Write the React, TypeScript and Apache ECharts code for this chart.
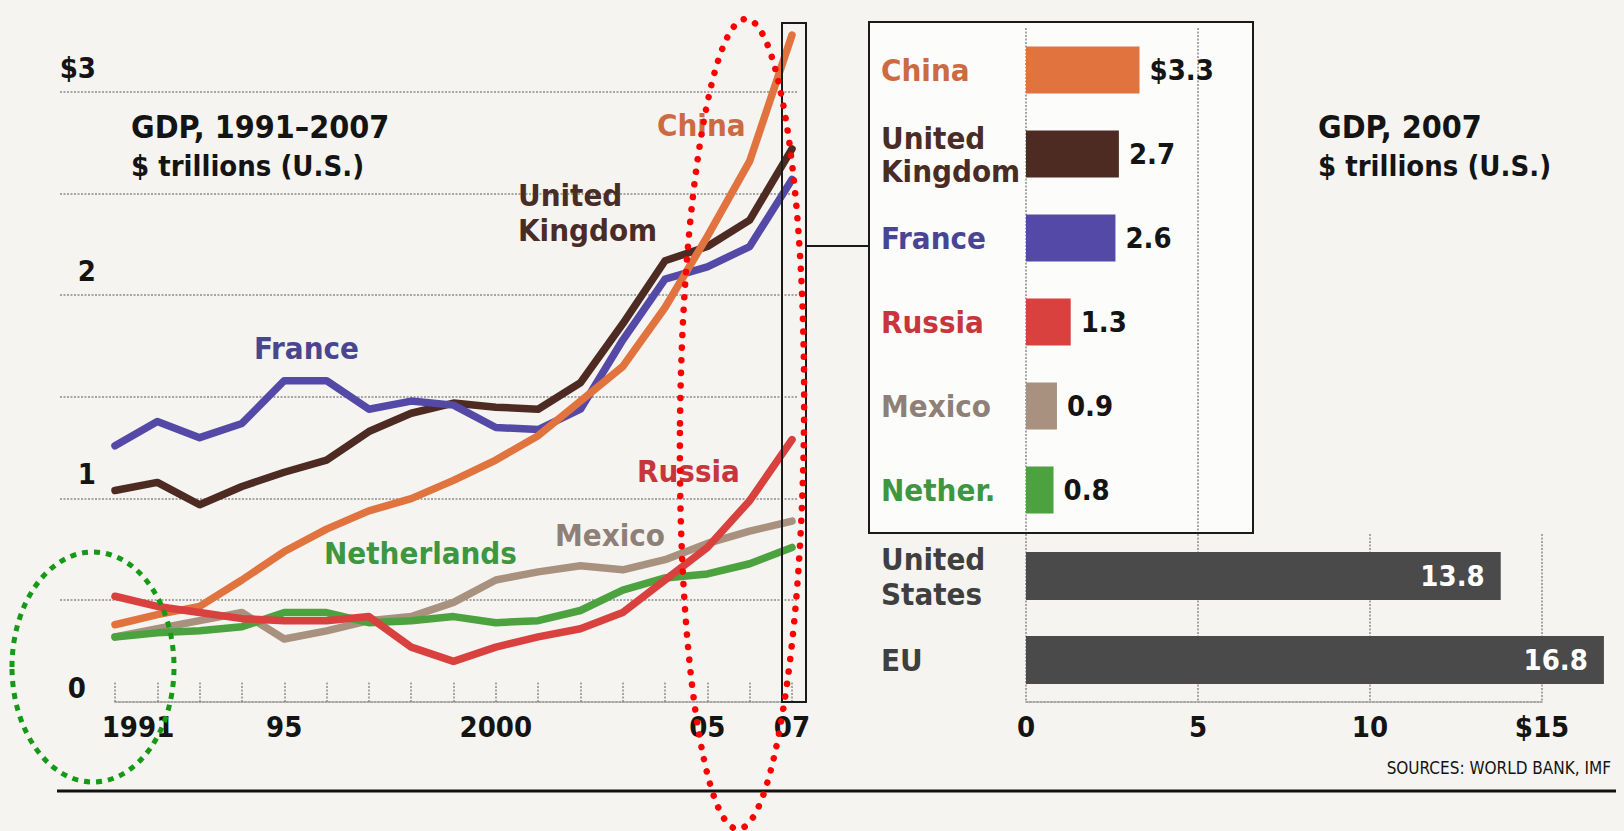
import React, { useEffect, useRef } from "react";
import * as echarts from "echarts";

// ---------- data ----------
const years = ["1991","1992","1993","1994","1995","1996","1997","1998","1999","2000","2001","2002","2003","2004","2005","2006","2007"];
const yearTickLabels = ["1991","","","","95","","","","","2000","","","","","05","","07"];
const gdpTickLabels = ["0","","1","","2","","$3"];

const chinaGdp = [0.38,0.43,0.47,0.60,0.74,0.85,0.94,1.00,1.09,1.19,1.31,1.48,1.65,1.94,2.29,2.66,3.28];
const ukGdp = [1.04,1.08,0.97,1.06,1.13,1.19,1.33,1.42,1.47,1.45,1.44,1.57,1.86,2.17,2.24,2.37,2.72];
const franceGdp = [1.26,1.38,1.30,1.37,1.58,1.58,1.44,1.48,1.46,1.35,1.34,1.44,1.78,2.08,2.14,2.24,2.57];
const russiaGdp = [0.52,0.47,0.44,0.41,0.40,0.40,0.42,0.27,0.20,0.27,0.32,0.36,0.44,0.60,0.76,0.99,1.29];
const mexicoGdp = [0.32,0.36,0.40,0.44,0.31,0.35,0.40,0.42,0.49,0.60,0.64,0.67,0.65,0.70,0.78,0.84,0.89];
const netherlandsGdp = [0.32,0.34,0.35,0.37,0.44,0.44,0.39,0.40,0.42,0.39,0.40,0.45,0.55,0.61,0.63,0.68,0.76];

const barCountries = ["China","United\nKingdom","France","Russia","Mexico","Nether."];
const barValues2007 = [3.3,2.7,2.6,1.3,0.9,0.8];
const bigEconomies = ["United\nStates","EU"];
const bigValues2007 = [13.8,16.8];
const barTickLabels = ["0","5","10","$15"];

// ---------- styles ----------
const COND = "'DejaVu Sans Condensed', 'DejaVu Sans', sans-serif";
const INK = "#141414";
const DOT = { color: "#8c8c8c", width: 1.5, type: [2, 1.5] as any };
const LABEL_SIZE = 31;
const NUM_SIZE = 29;

const C = {
  china: "#E0733E", uk: "#4E2B22", france: "#5449A6",
  russia: "#D9413F", mexico: "#A8917E", neth: "#4CA23F",
};
const T = {
  china: "#CC6A42", uk: "#4A2C26", france: "#4A4592",
  russia: "#C8363C", mexico: "#8E8076", neth: "#3E9640", gray: "#3f3f3f",
};
const barColors = [C.china, C.uk, C.france, C.russia, C.mexico, C.neth];
const barTextColors = [T.china, T.uk, T.france, T.russia, T.mexico, T.neth];

function label(text: string, x: number, y: number, fill: string, size = LABEL_SIZE, weight = "bold", align = "left") {
  return {
    type: "text", x, y, z: 50,
    style: { text, fill, fontSize: size, fontFamily: COND, fontWeight: weight, align, verticalAlign: "middle" },
  };
}

export default function App() {
  const ref = useRef<HTMLDivElement>(null);
  useEffect(() => {
    if (!ref.current) return;
    const chart = echarts.init(ref.current, null, { renderer: "svg" });
    const numFont = { fontFamily: COND, fontWeight: "bold", fontSize: NUM_SIZE, color: INK };

    const lineSeries = [
      { name: "Mexico", data: mexicoGdp, color: C.mexico },
      { name: "Netherlands", data: netherlandsGdp, color: C.neth },
      { name: "United Kingdom", data: ukGdp, color: C.uk },
      { name: "France", data: franceGdp, color: C.france },
      { name: "China", data: chinaGdp, color: C.china },
      { name: "Russia", data: russiaGdp, color: C.russia },
    ].map((s) => ({
      type: "line", name: s.name, xAxisIndex: 0, yAxisIndex: 0, data: s.data,
      symbol: "none", smooth: false, clip: false,
      lineStyle: { color: s.color, width: 7.5, cap: "round", join: "round" },
    }));

    const catRich: any = {};
    barTextColors.forEach((c, i) => {
      catRich["c" + i] = { fontFamily: COND, fontWeight: "bold", fontSize: LABEL_SIZE, color: c, lineHeight: 33 };
    });

    const option: any = {
      animation: false,
      backgroundColor: "#F5F4F1",
      grid: [
        { left: 115, top: 92, width: 677, height: 610 },
        { left: 60, top: 92, width: 738, height: 508 },
        { left: 1026, top: 28, width: 172, height: 504 },
        { left: 1026, top: 534, width: 516, height: 168 },
      ],
      xAxis: [
        {
          gridIndex: 0, type: "category", data: years, boundaryGap: false,
          axisLine: { show: true, lineStyle: DOT },
          axisTick: { show: true, inside: true, length: 21, interval: 0, lineStyle: DOT },
          axisLabel: {
            interval: 0, margin: 10, ...numFont,
            formatter: (v: string, i: number) => {
              const t = yearTickLabels[i];
              if (!t) return "";
              return i === 0 ? `{f|${t}}` : `{n|${t}}`;
            },
            rich: { f: { ...numFont, padding: [0, 0, 0, 46] }, n: { ...numFont } },
          },
          splitLine: { show: false },
        },
        { gridIndex: 1, type: "value", show: false, min: 0, max: 1 },
        {
          gridIndex: 2, type: "value", min: 0, max: 5, interval: 5,
          axisLine: { show: false }, axisTick: { show: false }, axisLabel: { show: false },
          splitLine: { show: true, lineStyle: DOT },
        },
        {
          gridIndex: 3, type: "value", min: 0, max: 15, interval: 5,
          axisLine: { show: true, lineStyle: DOT }, axisTick: { show: false },
          axisLabel: { margin: 10, ...numFont, formatter: (v: number) => barTickLabels[Math.round(v / 5)] },
          splitLine: { show: true, lineStyle: DOT },
        },
      ],
      yAxis: [
        {
          gridIndex: 0, type: "value", min: 0, max: 3, interval: 0.5,
          axisLine: { show: false }, axisTick: { show: false }, splitLine: { show: false },
          axisLabel: {
            margin: 19, align: "right", verticalAlign: "bottom",
            formatter: (v: number) => {
              const t = gdpTickLabels[Math.round(v * 2)];
              if (!t) return "";
              return v === 0 ? `{z|${t}}` : `{a|${t}}`;
            },
            rich: {
              a: { ...numFont, padding: [0, 0, 10, 0] },
              z: { ...numFont, padding: [0, 10, 0, 0] },
            },
          },
        },
        {
          gridIndex: 1, type: "value", min: 0.5, max: 3, interval: 0.5,
          axisLine: { show: false }, axisTick: { show: false }, axisLabel: { show: false },
          splitLine: { show: true, lineStyle: DOT },
        },
        {
          gridIndex: 2, type: "category", inverse: true, data: barCountries,
          axisLine: { show: false }, axisTick: { show: false },
          axisLabel: {
            align: "left", margin: 145,
            formatter: (v: string, i: number) => v.split("\n").map((s) => `{c${i}|${s}}`).join("\n"),
            rich: catRich,
          },
        },
        {
          gridIndex: 3, type: "category", inverse: true, data: bigEconomies,
          axisLine: { show: false }, axisTick: { show: false },
          axisLabel: {
            align: "left", margin: 145,
            formatter: (v: string) => v.split("\n").map((s) => `{g|${s}}`).join("\n"),
            rich: { g: { fontFamily: COND, fontWeight: "bold", fontSize: LABEL_SIZE, color: T.gray, lineHeight: 35 } },
          },
        },
      ],
      series: [
        ...lineSeries,
        {
          type: "bar", xAxisIndex: 2, yAxisIndex: 2, barWidth: 47,
          data: barValues2007.map((v, i) => ({ value: v, itemStyle: { color: barColors[i] } })),
          label: {
            show: true, position: "right", distance: 10, ...numFont,
            formatter: (p: any) => (p.dataIndex === 0 ? "$" + p.value : String(p.value)),
          },
        },
        {
          type: "bar", xAxisIndex: 3, yAxisIndex: 3, barWidth: 48, clip: false,
          data: bigValues2007, itemStyle: { color: "#4A4A4A" },
          label: {
            show: true, position: "insideRight", distance: 16,
            fontFamily: COND, fontWeight: "bold", fontSize: NUM_SIZE, color: "#ffffff",
          },
        },
      ],
      graphic: [
        { type: "rect", z: -10, shape: { x: 869, y: 22, width: 384, height: 511 }, style: { fill: "#FCFCFB", stroke: "#1a1a1a", lineWidth: 2 } },
        { type: "rect", z: 40, shape: { x: 782, y: 23, width: 24, height: 679 }, style: { fill: "none", stroke: "#1a1a1a", lineWidth: 2 } },
        { type: "line", z: 40, shape: { x1: 806, y1: 246, x2: 869, y2: 246 }, style: { stroke: "#1a1a1a", lineWidth: 2 } },
        { type: "line", z: 40, shape: { x1: 57, y1: 791, x2: 1616, y2: 791 }, style: { stroke: "#111", lineWidth: 3 } },
        label("GDP, 1991–2007", 131, 127, INK, 32),
        label("$ trillions (U.S.)", 131, 166, INK, 29),
        label("GDP, 2007", 1318, 127, INK, 32),
        label("$ trillions (U.S.)", 1318, 166, INK, 29),
        label("China", 657, 125, T.china),
        label("United", 518, 195, T.uk),
        label("Kingdom", 518, 230, T.uk),
        label("France", 254, 348, T.france),
        label("Russia", 637, 471, T.russia),
        label("Mexico", 555, 535, T.mexico),
        label("Netherlands", 324, 553, T.neth),
        label("SOURCES: WORLD BANK, IMF", 1611, 768, INK, 17, "normal", "right"),
        { type: "ellipse", z: 100, x: 742, y: 424, rotation: -0.01, shape: { cx: 0, cy: 0, rx: 62, ry: 405 }, style: { fill: "none", stroke: "#ff0000", lineWidth: 6.5, lineDash: [0.1, 12.5], lineCap: "round" } },
        { type: "ellipse", z: 100, shape: { cx: 93, cy: 667, rx: 81, ry: 115 }, style: { fill: "none", stroke: "#149a14", lineWidth: 5, lineDash: [6, 6] } },
      ],
    };
    chart.setOption(option);
    return () => chart.dispose();
  }, []);
  return <div ref={ref} style={{ position: "fixed", left: 0, top: 0, width: 1624, height: 831 }} />;
}
